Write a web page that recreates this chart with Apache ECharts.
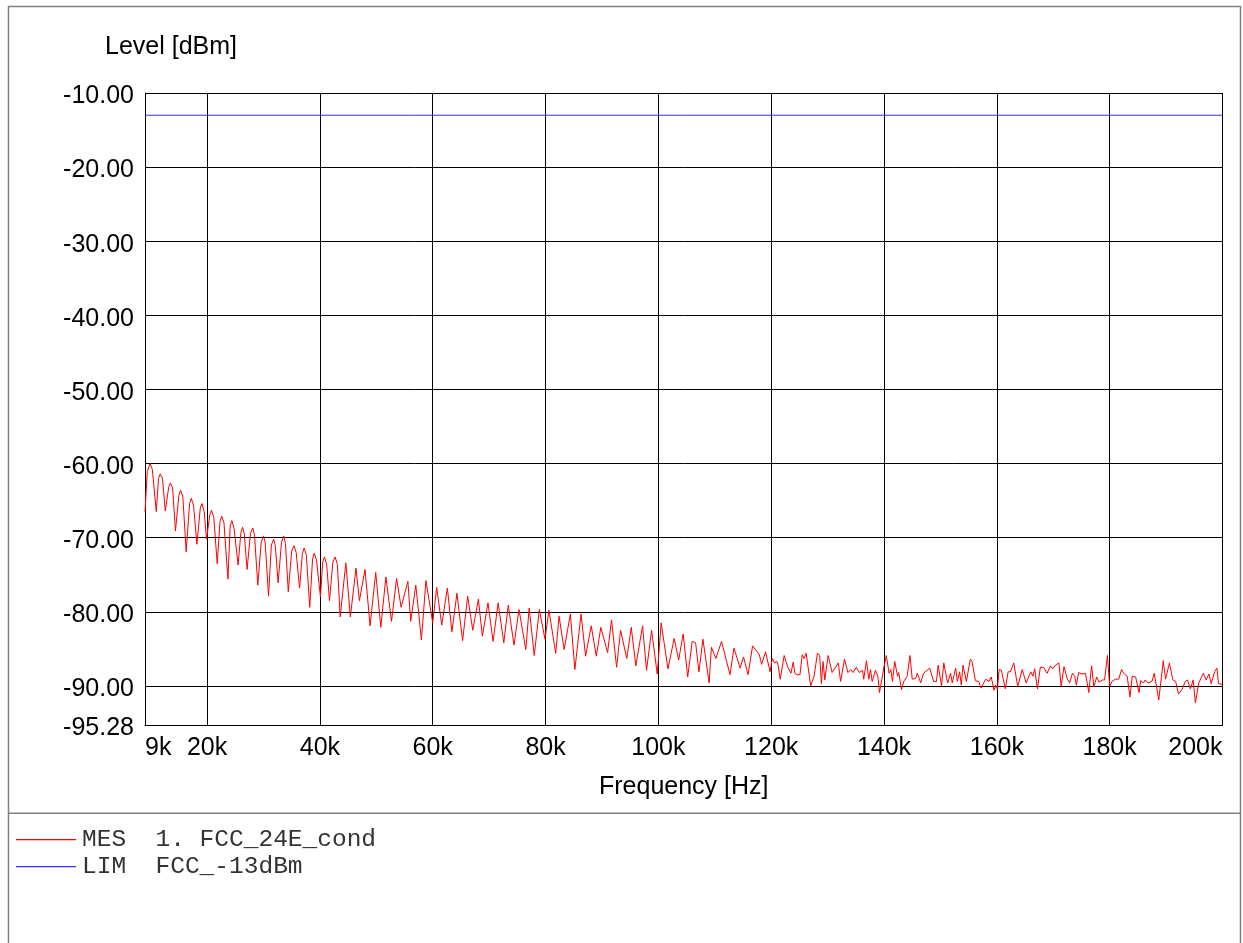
<!DOCTYPE html>
<html>
<head>
<meta charset="utf-8">
<script src="https://cdn.jsdelivr.net/npm/echarts@6/dist/echarts.min.js"></script>
<style>
html,body{margin:0;padding:0;background:#fff;}
#c{width:1243px;height:943px;}
</style>
</head>
<body>
<div id="c"></div>
<script>
// ---- data ----
const xTickValues = [9, 20, 40, 60, 80, 100, 120, 140, 160, 180, 200];
const yTickValues = [-95.28, -90, -80, -70, -60, -50, -40, -30, -20, -10];

const mesFreq = [
  9.0, 9.4, 9.9, 10.3, 11.0, 11.4, 11.7, 12.1, 12.6, 13.2, 13.5, 13.9,
  14.4, 15.0, 15.3, 15.7, 16.3, 16.9, 17.2, 17.6, 18.2, 18.8, 19.1, 19.5,
  19.9, 20.5, 20.8, 21.2, 21.8, 22.3, 22.6, 23.0, 23.7, 24.1, 24.4, 24.8,
  25.5, 26.0, 26.3, 26.6, 27.1, 27.7, 28.1, 28.4, 29.0, 29.6, 30.0, 30.3,
  30.9, 31.4, 31.8, 32.1, 32.6, 33.2, 33.6, 33.9, 34.4, 35.0, 35.4, 35.8,
  36.4, 36.9, 37.2, 37.6, 38.2, 38.7, 39.0, 39.4, 40.1, 40.5, 40.8, 41.2,
  41.7, 42.3, 42.7, 43.1, 43.6,
  44.6, 45.4, 46.4, 47.0, 48.0, 48.9, 49.9, 50.8, 51.7, 52.7,
  53.6, 54.4, 55.6, 56.1, 57.0, 58.0, 58.8, 60.0, 60.7, 61.6,
  62.6, 63.4, 64.3, 65.3, 66.2, 67.1, 68.1, 68.8, 69.8, 70.7,
  71.6, 72.6, 73.4, 74.4, 75.3, 76.5, 77.1, 78.0, 78.9, 79.9,
  80.6, 81.8, 82.4, 83.3, 84.4, 85.2, 86.3, 87.1, 88.1, 89.0,
  89.8, 91.0, 91.7, 92.6, 93.3, 94.4, 95.2, 96.0, 97.2, 97.9,
  98.8, 99.8, 100.5, 101.7, 102.8, 103.6, 104.4, 105.2, 106.0, 106.6,
  107.2, 107.9, 109.0, 109.4, 110.2, 111.2, 112.7, 113.4, 114.5, 115.1,
  115.9, 116.7, 117.9, 118.3, 119.0, 119.8, 120.2, 120.6, 121.0, 121.2,
  121.6, 122.3, 122.9, 123.5, 123.9, 124.2, 124.6, 125.1, 125.5, 125.8,
  126.2, 127.0, 127.6, 128.2, 128.6, 128.9, 129.2, 129.5, 130.1, 130.8,
  131.9, 132.3, 133.0, 133.6, 134.1, 134.5, 135.1, 135.6, 136.2, 136.4,
  136.9, 137.3, 137.6, 137.9, 138.5, 138.9, 139.2, 140.0, 140.4, 140.9,
  141.2, 141.5, 141.9, 142.4, 142.6, 143.1, 143.5, 144.1, 144.6, 145.0,
  145.6, 145.9, 146.5, 147.0, 148.1, 148.8, 149.3, 149.6, 150.2, 150.6,
  151.1, 151.3, 151.8, 152.1, 152.7, 153.0, 153.4, 153.7, 154.0, 154.6,
  155.3, 155.6, 156.2, 156.8, 157.2, 158.0, 158.6, 159.0, 159.5, 159.8,
  160.1, 160.4, 160.8, 161.5, 162.0, 162.4, 163.0, 163.7, 164.5, 165.2,
  166.0, 166.4, 166.7, 167.2, 167.7, 168.3, 168.9, 169.5, 169.9, 170.4,
  171.0, 171.4, 171.9, 172.5, 172.9, 173.4, 173.8, 174.1, 174.5, 175.1,
  175.7, 176.3, 176.8, 177.2, 177.7, 178.1, 178.7, 179.1, 179.6, 180.0,
  180.4, 181.0, 181.6, 182.1, 182.5, 183.1, 183.6, 184.0, 184.6, 185.2,
  185.5, 186.0, 186.3, 186.8, 187.5, 187.9, 188.7, 189.5, 189.9, 190.6,
  191.2, 191.7, 192.2, 192.7, 193.0, 193.4, 193.8, 194.3, 194.8, 195.2,
  195.8, 196.6, 197.1, 197.6, 198.0, 198.6, 199.0, 199.3, 200.0
];
const mesLevel = [
  -66.5, -61.1, -60.0, -60.8, -66.5, -62.0, -61.4, -62.0, -66.4, -63.2, -62.6, -63.3,
  -69.1, -64.3, -63.6, -64.4, -71.9, -65.4, -64.7, -65.6, -70.9, -66.0, -65.4, -66.5,
  -70.2, -66.9, -66.3, -67.3, -73.5, -67.8, -67.1, -68.0, -75.6, -68.4, -67.7, -68.8,
  -73.7, -69.3, -68.6, -69.5, -74.3, -69.4, -68.7, -69.6, -76.4, -70.6, -69.8, -70.6,
  -77.9, -71.0, -70.2, -71.1, -76.1, -70.6, -69.8, -70.8, -77.3, -71.8, -71.1, -72.0,
  -76.8, -72.1, -71.4, -72.3, -79.4, -72.9, -72.1, -73.0, -78.0, -73.3, -72.6, -73.6,
  -78.5, -73.3, -72.6, -73.6, -80.7,
  -73.4, -80.7, -74.1, -78.5, -74.3, -81.9, -74.7, -82.1, -75.3, -81.3,
  -75.5, -79.4, -75.9, -81.3, -76.4, -83.8, -75.8, -81.5, -76.7, -81.8,
  -76.8, -82.7, -77.5, -83.9, -77.9, -82.5, -78.3, -83.3, -78.8, -84.0,
  -78.8, -84.2, -79.1, -84.5, -79.7, -85.1, -79.5, -85.9, -79.7, -83.7,
  -79.8, -85.6, -80.6, -85.1, -80.3, -87.8, -80.3, -86.0, -81.9, -86.0,
  -82.1, -85.5, -81.1, -87.5, -82.5, -86.3, -82.1, -87.3, -81.9, -87.9,
  -82.5, -88.4, -81.5, -87.7, -83.6, -86.5, -83.0, -88.8, -84.0, -84.2,
  -88.1, -83.7, -89.6, -84.8, -86.3, -84.0, -88.5, -84.9, -87.6, -86.1,
  -88.5, -84.6, -85.8, -87.1, -85.4, -88.1, -86.3, -86.9, -86.7, -87.1,
  -89.1, -85.9, -87.4, -88.3, -86.8, -88.3, -88.5, -88.5, -85.8, -86.3,
  -85.6, -90.0, -88.7, -85.6, -85.9, -89.7, -86.7, -89.2, -85.9, -88.2,
  -86.9, -89.4, -86.4, -88.2, -87.8, -88.2, -87.5, -88.2, -87.9, -89.1,
  -86.6, -89.1, -87.8, -89.4, -87.9, -88.7, -90.9, -87.4, -85.9, -88.3,
  -87.8, -89.4, -86.7, -88.7, -88.2, -90.5, -89.4, -88.7, -85.9, -89.1,
  -89.0, -88.3, -89.6, -88.3, -87.6, -89.4, -89.4, -87.2, -90.0, -86.9,
  -89.0, -89.6, -88.3, -89.6, -87.6, -89.4, -88.1, -89.9, -87.2, -89.4,
  -86.4, -86.7, -89.3, -89.4, -90.3, -89.1, -89.4, -88.8, -90.6, -89.9,
  -90.5, -87.8, -87.9, -90.4, -88.1, -88.1, -86.9, -90.1, -87.8, -89.6,
  -88.1, -88.7, -87.7, -90.4, -87.5, -87.5, -88.3, -87.3, -87.7, -87.2,
  -86.9, -90.1, -87.4, -89.1, -89.6, -88.3, -88.7, -89.9, -88.2, -88.4,
  -88.3, -90.9, -87.3, -90.1, -88.8, -89.5, -89.2, -89.2, -85.9, -90.1,
  -89.4, -89.1, -89.1, -87.8, -88.3, -88.7, -91.5, -88.7, -88.8, -90.9,
  -89.3, -89.6, -89.2, -89.6, -89.4, -88.3, -91.9, -86.6, -89.1, -86.9,
  -89.2, -89.4, -91.1, -90.6, -90.2, -89.4, -89.2, -90.4, -89.2, -92.3,
  -89.6, -88.3, -89.2, -88.4, -89.7, -88.1, -87.6, -89.7, -89.8
];
const limFreq = [9, 200];
const limLevel = [-13, -13];

const mesName = 'MES  1. FCC_24E_cond';
const limName = 'LIM  FCC_-13dBm';
const yAxisTitle = 'Level [dBm]';
const xAxisTitle = 'Frequency [Hz]';

// ---- build ----
const mesData = mesFreq.map((f, i) => [f, mesLevel[i]]);
const limData = limFreq.map((f, i) => [f, limLevel[i]]);

const chart = echarts.init(document.getElementById('c'), null, { renderer: 'canvas' });
const font = 'Liberation Sans, Arial, sans-serif';
const mono = 'Liberation Mono, Courier New, monospace';

chart.setOption({
  animation: false,
  backgroundColor: '#fff',
  grid: { left: 145, top: 93, width: 1077.5, height: 632, containLabel: false },
  xAxis: {
    type: 'value', min: 9, max: 200,
    name: xAxisTitle, nameLocation: 'middle', nameGap: 50,
    nameTextStyle: { fontFamily: font, fontSize: 25, color: '#000' },
    axisLine: { show: true, onZero: false, lineStyle: { color: '#000', width: 1 } },
    axisTick: { show: false, customValues: xTickValues },
    axisLabel: {
      customValues: xTickValues, formatter: v => v + 'k',
      fontFamily: font, fontSize: 25, color: '#000', margin: 11,
      alignMinLabel: 'left', alignMaxLabel: 'right'
    },
    splitLine: { show: true, lineStyle: { color: '#000', width: 1 } }
  },
  yAxis: {
    type: 'value', min: -95.28, max: -10,
    axisLine: { show: true, onZero: false, lineStyle: { color: '#000', width: 1 } },
    axisTick: { show: false, customValues: yTickValues },
    axisLabel: {
      customValues: yTickValues, formatter: v => '{t|' + Number(v).toFixed(2) + '}',
      fontFamily: font, fontSize: 25, color: '#000', margin: 11,
      rich: { t: { fontFamily: font, fontSize: 25, color: '#000', padding: [7, 0, 0, 0] } }
    },
    splitLine: { show: true, lineStyle: { color: '#000', width: 1 } }
  },
  series: [
    {
      name: mesName, type: 'line', data: mesData, showSymbol: false, symbol: 'none',
      lineStyle: { color: '#ff0000', width: 1 }, z: 3
    },
    {
      name: limName, type: 'line', data: limData, showSymbol: false, symbol: 'none',
      lineStyle: { color: '#3030ff', width: 1 }, z: 3
    }
  ],
  graphic: [
    { type: 'rect', shape: { x: 8.5, y: 6.5, width: 1232, height: 950 },
      style: { fill: 'none', stroke: '#808080', lineWidth: 1.5 }, silent: true },
    { type: 'rect', shape: { x: 8, y: 812.5, width: 1233, height: 1.5 },
      style: { fill: '#808080' }, silent: true },
    { type: 'text', x: 105, y: 47,
      style: { text: yAxisTitle, font: '25px ' + font, fill: '#000', textVerticalAlign: 'middle' } },
    { type: 'rect', shape: { x: 16, y: 839, width: 60, height: 1.2 },
      style: { fill: '#ff0000' }, silent: true },
    { type: 'rect', shape: { x: 16, y: 866, width: 60, height: 1.2 },
      style: { fill: '#3030ff' }, silent: true },
    { type: 'text', x: 82, y: 840,
      style: { text: mesName, font: '24.5px ' + mono, fill: '#333', textVerticalAlign: 'middle' } },
    { type: 'text', x: 82, y: 867,
      style: { text: limName, font: '24.5px ' + mono, fill: '#333', textVerticalAlign: 'middle' } }
  ]
});
</script>
</body>
</html>
